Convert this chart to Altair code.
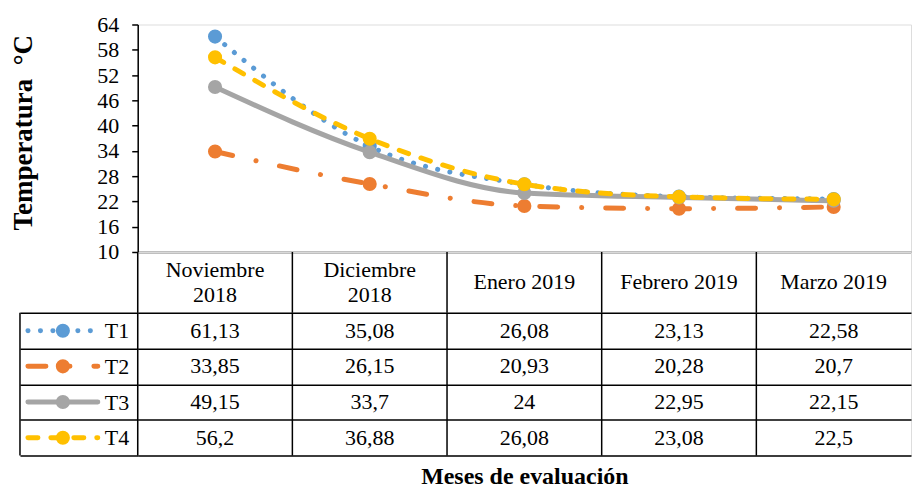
import altair as alt
import pandas as pd

# ---- data ----
meses = ["Noviembre 2018", "Diciembre 2018", "Enero 2019", "Febrero 2019", "Marzo 2019"]
encabezados = ["Noviembre\n2018", "Diciembre\n2018", "Enero 2019", "Febrero 2019", "Marzo 2019"]
series = ["T1", "T2", "T3", "T4"]
t1 = [61.13, 35.08, 26.08, 23.13, 22.58]
t2 = [33.85, 26.15, 20.93, 20.28, 20.7]
t3 = [49.15, 33.7, 24, 22.95, 22.15]
t4 = [56.2, 36.88, 26.08, 23.08, 22.5]
y_ticks = [10, 16, 22, 28, 34, 40, 46, 52, 58, 64]
colores = ["#5B9BD5", "#ED7D31", "#A5A5A5", "#FFC000"]

valores = {"T1": t1, "T2": t2, "T3": t3, "T4": t4}
rows = []
for s in series:
    for m, v in zip(meses, valores[s]):
        rows.append({"mes": m, "serie": s, "valor": v,
                     "etiqueta": f"{v:g}".replace(".", ",")})
df = pd.DataFrame(rows)
header_df = pd.DataFrame({"mes": meses, "encabezado": encabezados,
                          "lineas": [e.count("\n") + 1 for e in encabezados]})
one = pd.DataFrame({"k": [0]})

FONT = "Liberation Serif"
W = 775
LW = 1.5
dashes = {"T1": [0.1, 12.4], "T2": [18, 24, 0.1, 24], "T3": None, "T4": [10, 13]}

# ---- top: line chart ----
x_top = alt.X("mes:N", scale=alt.Scale(type="point", domain=meses, padding=0.5),
              axis=alt.Axis(labels=False, ticks=False, title=None, domain=True,
                            domainColor="black", domainWidth=LW, grid=False))
y_top = alt.Y("valor:Q", scale=alt.Scale(domain=[10, 64], nice=False, zero=False),
              axis=alt.Axis(values=y_ticks, title="Temperatura\u00a0\u00a0°C", titleFont=FONT,
                            titleFontSize=27, titleFontWeight="bold", titleColor="black",
                            titleAngle=270, titleX=-114, titleY=108, titleBaseline="middle",
                            titleAlign="center",
                            labelFont=FONT, labelFontSize=22, labelColor="black",
                            labelPadding=13, tickSize=6, tickColor="black", tickWidth=LW,
                            domainColor="black", domainWidth=LW, grid=False))

layers = []
for s, c in zip(series, colores):
    base = alt.Chart(df).transform_filter(alt.datum.serie == s)
    kw = dict(color=c, strokeWidth=5, strokeCap="round", interpolate="monotone")
    if dashes[s]:
        kw["strokeDash"] = dashes[s]
    layers.append(base.mark_line(**kw).encode(x=x_top, y=y_top))
    layers.append(base.mark_circle(color=c, size=200, opacity=1).encode(x=x_top, y=y_top))
top = alt.layer(*layers).properties(width=W, height=228)

# ---- header row ----
band = alt.Scale(type="band", domain=meses, paddingInner=0, paddingOuter=0)
h_rules = alt.Chart(header_df).mark_rule(color="black", strokeWidth=LW).encode(
    x=alt.X("mes:N", scale=band, bandPosition=0, axis=None))
h_text1 = alt.Chart(header_df).transform_filter(alt.datum.lineas == 1).mark_text(
    font=FONT, fontSize=22, color="black", baseline="middle").encode(
    x=alt.X("mes:N", scale=band, bandPosition=0.5, axis=None),
    text="encabezado:N")
h_text2 = alt.Chart(header_df).transform_filter(alt.datum.lineas == 2).mark_text(
    font=FONT, fontSize=22, color="black", lineBreak="\n", lineHeight=25,
    baseline="middle", dy=-12.5).encode(
    x=alt.X("mes:N", scale=band, bandPosition=0.5, axis=None),
    text="encabezado:N")
header = alt.layer(h_rules, h_text1, h_text2).properties(width=W, height=61)

# ---- data table ----
yband = alt.Scale(type="band", domain=series, paddingInner=0, paddingOuter=0)
y_axis = alt.Axis(title=None, tickBand="extent", tickSize=118, tickColor="black",
                  tickWidth=LW, labelFont=FONT, labelFontSize=22, labelColor="black",
                  labelPadding=-109, labelAlign="right", domain=False,
                  grid=True, gridColor="black", gridWidth=LW, gridOpacity=1)
x_axis = alt.Axis(title="Meses de evaluación", titleFont=FONT, titleFontSize=24,
                  titleFontWeight="bold", titleColor="black", titlePadding=9,
                  labels=False, ticks=False, domain=False, grid=False)
y_tab = alt.Y("serie:N", scale=yband, bandPosition=0.5, axis=y_axis)
x_tab = alt.X("mes:N", scale=band, bandPosition=0.5, axis=x_axis)

t_text = alt.Chart(df).mark_text(font=FONT, fontSize=22, color="black", baseline="middle").encode(
    x=x_tab, y=y_tab, text="etiqueta:N")
t_vrules = alt.Chart(header_df).mark_rule(color="black", strokeWidth=LW).encode(
    x=alt.X("mes:N", scale=band, bandPosition=0, axis=x_axis))
t_left = alt.Chart(one).mark_rule(color="black", strokeWidth=LW).encode(x=alt.value(-118))

leg_layers = []
leg_df = pd.DataFrame({"serie": series})
for s, c in zip(series, colores):
    lb = alt.Chart(leg_df).transform_filter(alt.datum.serie == s)
    kw = dict(color=c, strokeWidth=5, strokeCap="round")
    if dashes[s]:
        kw["strokeDash"] = dashes[s]
    leg_layers.append(lb.mark_rule(**kw).encode(y=y_tab, x=alt.value(-110), x2=alt.value(-40)))
    leg_layers.append(lb.mark_circle(color=c, size=200, opacity=1).encode(y=y_tab, x=alt.value(-75)))

table = alt.layer(t_text, t_vrules, t_left, *leg_layers).properties(width=W, height=143)

chart = alt.vconcat(top, header, table, spacing=0, bounds="flush").properties(
    padding={"left": 1, "top": 4, "right": 0, "bottom": 0}
).configure_view(stroke=None).configure(font=FONT)

chart.save("out.html", embed_options={"renderer": "svg", "actions": False})
